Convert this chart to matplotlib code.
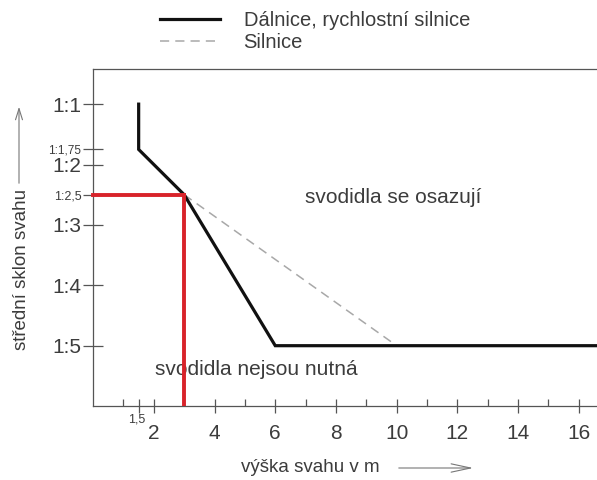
import matplotlib.pyplot as plt
from matplotlib.lines import Line2D

plt.rcParams['font.family'] = ['Liberation Sans', 'DejaVu Sans']

# dálnice / rychlostní silnice (solid)
highway_x = [1.5, 1.5, 3, 6, 16.6]
highway_slope = [1, 1.75, 2.5, 5, 5]
# silnice (dashed)
road_x = [3, 10]
road_slope = [2.5, 5]
# red marking
mark_x = 3
mark_slope = 2.5

ytick_vals = [1, 1.75, 2, 2.5, 3, 4, 5]
ytick_labels = ['1:1', '1:1,75', '1:2', '1:2,5', '1:3', '1:4', '1:5']
ytick_sizes = [15, 8.5, 15, 9, 15, 15, 15]
xtick_major = [1.5, 2, 4, 6, 8, 10, 12, 14, 16]
xtick_labels = ['', '2', '4', '6', '8', '10', '12', '14', '16']
xtick_minor = [1, 3, 5, 7, 9, 11, 13, 15]

gray = '#3c3c3c'

fig = plt.figure(figsize=(5.97, 4.8), dpi=100)
ax = fig.add_axes([0.156, 0.154, 0.844, 0.702])

ax.plot(highway_x, highway_slope, color='#111111', lw=2.3, solid_joinstyle='miter', zorder=3)
ax.plot(road_x, road_slope, color='#a8a8a8', lw=1.1, ls=(0, (6, 4)), zorder=2)
ax.plot([0, mark_x], [mark_slope, mark_slope], color='#d8232a', lw=2.8, zorder=4, clip_on=False)
ax.plot([mark_x, mark_x], [mark_slope, 6.0], color='#d8232a', lw=2.8, zorder=4)

ax.set_xlim(0, 16.6)
ax.set_ylim(6.0, 0.42)

ax.set_yticks(ytick_vals)
ax.set_yticklabels(ytick_labels)
for lab, s in zip(ax.get_yticklabels(), ytick_sizes):
    lab.set_fontsize(s)
    lab.set_color(gray)
ax.tick_params(axis='y', direction='inout', length=15, width=0.9, color='#555555', pad=1)

ax.set_xticks(xtick_major)
ax.set_xticklabels(xtick_labels)
ax.set_xticks(xtick_minor, minor=True)
ax.tick_params(axis='x', which='major', direction='inout', length=10, width=0.9,
               color='#555555', labelsize=15, labelcolor=gray, pad=8)
ax.tick_params(axis='x', which='minor', direction='in', length=5, width=0.9, color='#555555')
ax.text(1.45, -0.04, '1,5', transform=ax.get_xaxis_transform(), fontsize=9,
        color=gray, ha='center', va='center')

for side in ['left', 'bottom', 'top']:
    ax.spines[side].set_color('#555555')
    ax.spines[side].set_linewidth(0.9)
ax.spines['right'].set_visible(False)

ax.text(6.97, 2.54, 'svodidla se osazují', fontsize=15, color=gray, va='center')
ax.text(2.04, 5.40, 'svodidla nejsou nutná', fontsize=15, color=gray, va='center')

# axis labels with arrows
fig.text(22 / 597, 1 - 270 / 480, 'střední sklon svahu', rotation=90, fontsize=13.5,
         color=gray, ha='center', va='center')
ax.annotate('', xy=(19 / 597, 1 - 104 / 480), xytext=(19 / 597, 1 - 186 / 480),
            xycoords='figure fraction',
            arrowprops=dict(arrowstyle='->,head_length=0.8,head_width=0.25', color='#777777', lw=0.8))
fig.text(310 / 597, 1 - 467 / 480, 'výška svahu v m', fontsize=13.5, color=gray,
         ha='center', va='center')
ax.annotate('', xy=(476 / 597, 1 - 468 / 480), xytext=(396 / 597, 1 - 468 / 480),
            xycoords='figure fraction',
            arrowprops=dict(arrowstyle='->,head_length=1.4,head_width=0.3', color='#777777', lw=0.8))

handles = [Line2D([], [], color='#111111', lw=2.3),
           Line2D([], [], color='#a8a8a8', lw=1.1, ls=(0, (6, 4)))]
fig.legend(handles, ['Dálnice, rychlostní silnice', 'Silnice'], loc='upper left',
           bbox_to_anchor=(160 / 597, 0.978), frameon=False, fontsize=14.5,
           handlelength=3.0, handletextpad=1.15, labelspacing=0.15,
           borderpad=0, borderaxespad=0, labelcolor=gray)

fig.savefig('out.png', dpi=100)
